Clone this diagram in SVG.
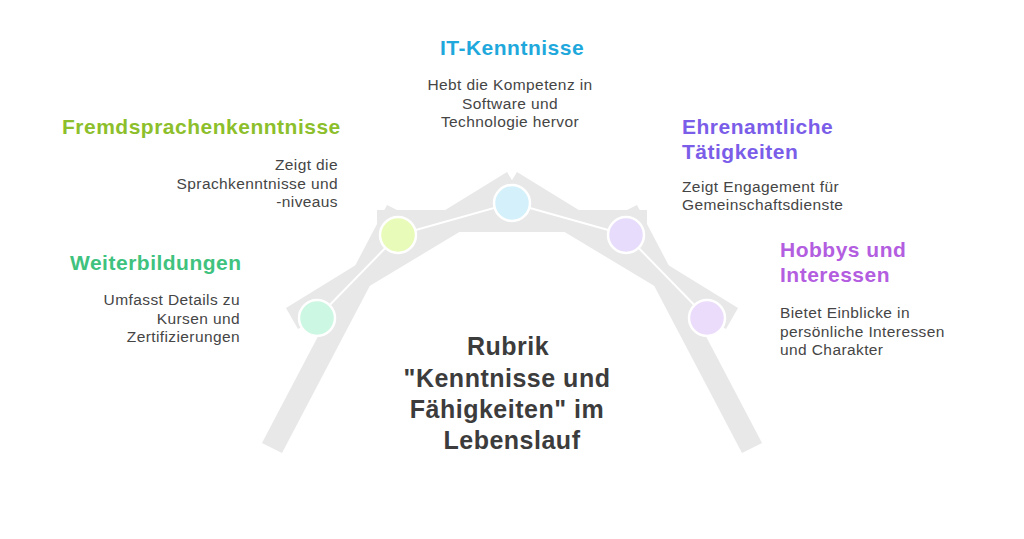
<svg xmlns="http://www.w3.org/2000/svg" width="1024" height="539" viewBox="0 0 1024 539">
  <style>
    .frame { fill: #e8e8e8; }
    .conn { stroke: #ffffff; stroke-width: 2; fill: none; }
    .dot { stroke: #ffffff; stroke-width: 2.5; }
    .ttl { font-family: "Liberation Sans", Arial, sans-serif; font-weight: bold; font-size: 21px; letter-spacing: 0.5px; }
    .desc { font-family: "Liberation Sans", Arial, sans-serif; font-size: 15.5px; letter-spacing: 0.4px; fill: #454545; }
    .main { font-family: "Liberation Sans", Arial, sans-serif; font-weight: bold; font-size: 25px; letter-spacing: 0.5px; fill: #3c3c3c; text-anchor: middle; }
  </style>
  <rect width="1024" height="539" fill="#ffffff"/>
  <g id="frame">
    <polygon class="frame" points="262,443 387,205 407,215 282,453"/>
    <polygon class="frame" points="762,443 637,205 617,215 742,453"/>
    <rect class="frame" x="377" y="210" width="270" height="22"/>
    <polygon class="frame" points="286,308 507,172 521,195 298,329"/>
    <polygon class="frame" points="738,308 517,172 503,195 726,329"/>
  </g>
  <g id="connectors">
    <line class="conn" x1="317" y1="318" x2="398" y2="235"/>
    <line class="conn" x1="398" y1="235" x2="512" y2="203"/>
    <line class="conn" x1="512" y1="203" x2="626" y2="235"/>
    <line class="conn" x1="626" y1="235" x2="707" y2="318"/>
  </g>
  <g id="weiterbildungen">
    <circle class="dot" cx="317" cy="318" r="18" fill="#ccf7e2"/>
    <text class="ttl" x="70" y="270" fill="#3ec27e">Weiterbildungen</text>
    <text class="desc" x="240" y="305" text-anchor="end">Umfasst Details zu</text>
    <text class="desc" x="240" y="324" text-anchor="end">Kursen und</text>
    <text class="desc" x="240" y="342" text-anchor="end">Zertifizierungen</text>
  </g>
  <g id="fremdsprachen">
    <circle class="dot" cx="398" cy="235" r="18" fill="#e9fbb8"/>
    <text class="ttl" x="62" y="134" fill="#8cbf2b">Fremdsprachenkenntnisse</text>
    <text class="desc" x="338" y="170" text-anchor="end">Zeigt die</text>
    <text class="desc" x="338" y="189" text-anchor="end">Sprachkenntnisse und</text>
    <text class="desc" x="338" y="207" text-anchor="end">-niveaus</text>
  </g>
  <g id="it">
    <circle class="dot" cx="512" cy="203" r="18" fill="#d4f1fb"/>
    <text class="ttl" x="512" y="55" fill="#1fa8dc" text-anchor="middle">IT-Kenntnisse</text>
    <text class="desc" x="510" y="90" text-anchor="middle">Hebt die Kompetenz in</text>
    <text class="desc" x="510" y="109" text-anchor="middle">Software und</text>
    <text class="desc" x="510" y="127" text-anchor="middle">Technologie hervor</text>
  </g>
  <g id="ehrenamt">
    <circle class="dot" cx="626" cy="235" r="18" fill="#e7dcfb"/>
    <text class="ttl" x="682" y="134" fill="#7a5de8">Ehrenamtliche</text>
    <text class="ttl" x="682" y="159" fill="#7a5de8">Tätigkeiten</text>
    <text class="desc" x="682" y="192">Zeigt Engagement für</text>
    <text class="desc" x="682" y="210">Gemeinschaftsdienste</text>
  </g>
  <g id="hobbys">
    <circle class="dot" cx="707" cy="318" r="18" fill="#ecdcfb"/>
    <text class="ttl" x="780" y="257" fill="#b35de0">Hobbys und</text>
    <text class="ttl" x="780" y="282" fill="#b35de0">Interessen</text>
    <text class="desc" x="780" y="318">Bietet Einblicke in</text>
    <text class="desc" x="780" y="337">persönliche Interessen</text>
    <text class="desc" x="780" y="355">und Charakter</text>
  </g>
  <g id="center">
    <text class="main" x="508" y="355">Rubrik</text>
    <text class="main" x="507" y="387">"Kenntnisse und</text>
    <text class="main" x="507" y="418">Fähigkeiten" im</text>
    <text class="main" x="512" y="449">Lebenslauf</text>
  </g>
</svg>
